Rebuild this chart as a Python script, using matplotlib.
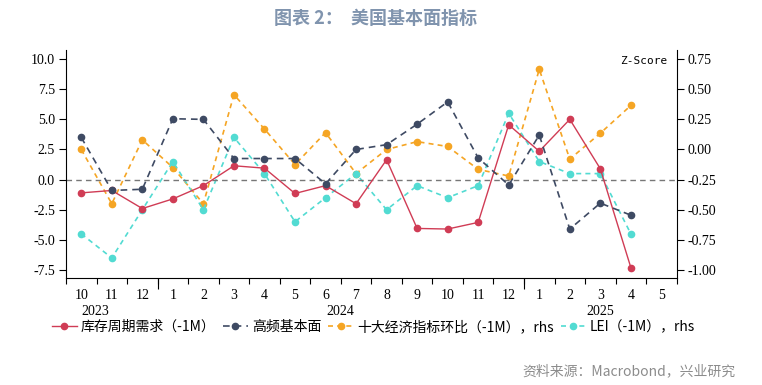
import matplotlib
matplotlib.use('Agg')
from matplotlib import pyplot as plt
import numpy as np

plt.rcParams['font.family'] = ['Noto Sans CJK SC', 'DejaVu Sans']
plt.rcParams['axes.unicode_minus'] = False

# Oct 2023 .. May 2025
months = ['10', '11', '12', '1', '2', '3', '4', '5', '6', '7', '8', '9',
          '10', '11', '12', '1', '2', '3', '4', '5']
years = ['2023', '2024', '2025']

# left axis
inventory = [-1.1, -0.9, -2.4, -1.6, -0.5, 1.15, 0.95, -1.15, -0.5, -2.0,
             1.65, -4.05, -4.1, -3.55, 4.55, 2.35, 5.0, 0.9, -7.3]
highfreq = [3.5, -0.9, -0.8, 5.05, 5.0, 1.75, 1.75, 1.75, -0.35, 2.5,
            2.9, 4.6, 6.45, 1.8, -0.45, 3.7, -4.1, -1.95, -2.95]
# right axis (Z-Score)
top10 = [0.0, -0.45, 0.08, -0.15, -0.45, 0.455, 0.17, -0.125, 0.14, -0.2,
         0.0, 0.065, 0.025, -0.165, -0.22, 0.665, -0.08, 0.135, 0.365]
lei = [-0.7, -0.9, -0.5, -0.1, -0.5, 0.1, -0.2, -0.6, -0.4, -0.2,
       -0.5, -0.3, -0.4, -0.3, 0.3, -0.1, -0.2, -0.2, -0.7]

c_red = '#d03c55'
c_navy = '#3e4a63'
c_orange = '#f5a524'
c_cyan = '#52dbd2'

fig = plt.figure(figsize=(7.62, 3.85), dpi=100)
ax = fig.add_axes([0.0866, 0.278, 0.8014, 0.592])
ax2 = ax.twinx()

x = np.arange(len(inventory))
l1, = ax.plot(x, inventory, color=c_red, lw=1.0, marker='o', ms=4.5,
              label='库存周期需求（-1M）')
l2, = ax.plot(x, highfreq, color=c_navy, lw=1.2, ls=(0, (4, 3)), marker='o', ms=4.5,
              label='高频基本面')
l3, = ax2.plot(x, top10, color=c_orange, lw=1.2, ls=(0, (3, 2.5)), marker='o', ms=4.5,
               label='十大经济指标环比（-1M），rhs')
l4, = ax2.plot(x, lei, color=c_cyan, lw=1.2, ls=(0, (3, 2.5)), marker='o', ms=4.5,
               label='LEI（-1M），rhs')
ax.axhline(0, color='#777777', lw=1.0, ls=(0, (4, 3)), zorder=0)

ax.set_zorder(ax2.get_zorder() + 1)
ax.patch.set_visible(False)

ax.set_xlim(-0.5, len(months) - 0.5)
ax.set_ylim(-8.16, 10.75)
ax2.set_ylim(-1.066, 0.825)

ax.set_yticks(np.arange(-7.5, 10.1, 2.5))
ax.set_yticklabels(['%.1f' % v for v in np.arange(-7.5, 10.1, 2.5)])
ax2.set_yticks(np.arange(-1.0, 0.76, 0.25))
ax2.set_yticklabels(['%.2f' % v for v in np.arange(-1.0, 0.76, 0.25)])

ax.set_xticks(np.arange(len(months)))
ax.set_xticklabels(months)
ax.tick_params(axis='x', length=0, pad=8)
ax.set_xticks(np.arange(-0.5, len(months)), minor=True)
ax.tick_params(axis='x', which='minor', length=4, width=0.8)
sec = ax.secondary_xaxis('bottom')
sec.set_xticks([2.5, 14.5])
sec.set_xticklabels(['', ''])
sec.tick_params(length=8, width=0.8)
sec.spines['bottom'].set_visible(False)

for a in (ax, ax2):
    a.spines['top'].set_visible(False)
    for lab in a.get_yticklabels() + a.get_xticklabels():
        lab.set_fontfamily('Liberation Serif')
        lab.set_fontsize(10)
ax.spines['right'].set_visible(False)
ax2.spines['left'].set_visible(False)
ax2.spines['bottom'].set_visible(False)
ax.tick_params(axis='y', length=5, width=0.8, pad=3)
ax2.tick_params(axis='y', length=5, width=0.8, pad=3)

tr = ax.get_xaxis_transform()
for xp, yr in zip([0.45, 8.5, 17.0], years):
    ax.text(xp, -0.145, yr, transform=tr, ha='center', va='center',
            fontfamily='Liberation Serif', fontsize=10)

ax2.text(0.985, 0.975, 'Z-Score', transform=ax.transAxes, ha='right', va='top',
         fontfamily='DejaVu Sans Mono', fontsize=8)

leg = fig.legend(handles=[l1, l2, l3, l4], loc='center left', bbox_to_anchor=(0.068, 0.151),
                 ncol=4, frameon=False, fontsize=10, handlelength=1.8, handletextpad=0.3,
                 columnspacing=0.5, borderaxespad=0, borderpad=0)

fig.text(0.493, 0.953, '图表 2：  美国基本面指标', ha='center', va='center',
         fontsize=13, fontweight='bold', color='#8094ae')
fig.text(0.965, 0.035, '资料来源：Macrobond，兴业研究', ha='right', va='center',
         fontsize=10, color='#8c8c8c')

fig.savefig('out.png', dpi=100)
